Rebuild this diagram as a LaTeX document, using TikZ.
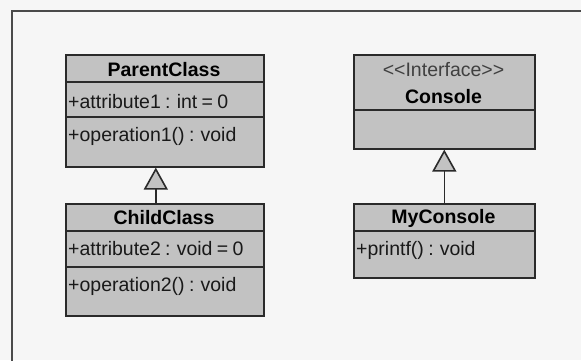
\documentclass[tikz,border=0pt]{standalone}
\usepackage{fontspec}
\setmainfont{Liberation Sans}[WordSpace=0.8]
\usetikzlibrary{arrows.meta}
\definecolor{pagebg}{HTML}{F6F6F6}
\definecolor{boxfill}{HTML}{C2C2C2}
\definecolor{edge}{HTML}{2A2A2A}
\definecolor{frameline}{HTML}{4A4A4A}
\definecolor{stereo}{HTML}{404040}

\begin{document}
\begin{tikzpicture}[x=1pt,y=-1pt,
  classbox/.style={draw=edge, fill=boxfill, line width=1.6pt, inner sep=0pt, anchor=north west},
  divider/.style={draw=edge, line width=1.6pt},
  title/.style={anchor=base, font=\fontsize{19.5}{23}\selectfont\bfseries, inner sep=0pt},
  member/.style={anchor=base west, font=\fontsize{19.5}{23}\selectfont, inner sep=0pt, text=black!90},
  stereotype/.style={anchor=base, font=\fontsize{19.5}{23}\selectfont, inner sep=0pt, text=stereo},
  generalization/.style={draw=edge, line width=1.6pt, -{Triangle[length=22pt, width=24pt, fill=boxfill]}},
]
\useasboundingbox[fill=pagebg] (0,0) rectangle (581,360);
\clip (0,0) rectangle (581,360);
% outer frame, running past the right and bottom edges
\draw[frameline, line width=2pt] (12,11) rectangle (600,380);

% ParentClass
\node[classbox, minimum width=198pt, minimum height=112pt] (parent) at (65,54) {};
\draw[divider] (parent.west |- 0,82) -- (parent.east |- 0,82);
\draw[divider] (parent.west |- 0,117) -- (parent.east |- 0,117);
\node[title] (parent-name) at (164,76) {ParentClass};
\node[member] (parent-attr) at (68,108) {+attribute1 : int = 0};
\node[member] (parent-op) at (68,141) {+operation1() : void};

% ChildClass
\node[classbox, minimum width=198pt, minimum height=112pt] (child) at (65,203) {};
\draw[divider] (child.west |- 0,231) -- (child.east |- 0,231);
\draw[divider] (child.west |- 0,267) -- (child.east |- 0,267);
\node[title] (child-name) at (164,224) {ChildClass};
\node[member] (child-attr) at (68,255) {+attribute2 : void = 0};
\node[member] (child-op) at (68,291) {+operation2() : void};

% Console interface
\node[classbox, minimum width=181pt, minimum height=94pt] (console) at (353,54) {};
\draw[divider] (console.west |- 0,110) -- (console.east |- 0,110);
\node[stereotype] (console-stereo) at (443.5,76) {<\kern0pt<Interface>\kern0pt>};
\node[title] (console-name) at (443.5,103) {Console};

% MyConsole
\node[classbox, minimum width=181pt, minimum height=74pt] (myconsole) at (353,203) {};
\draw[divider] (myconsole.west |- 0,231) -- (myconsole.east |- 0,231);
\node[title] (myconsole-name) at (443.5,223) {MyConsole};
\node[member] (myconsole-op) at (356,255) {+printf() : void};

% generalizations
\draw[generalization] ([xshift=-9pt]child.north) -- ([xshift=-9pt]parent.south);
\draw[generalization] (myconsole.north) -- (console.south);
\end{tikzpicture}
\end{document}
